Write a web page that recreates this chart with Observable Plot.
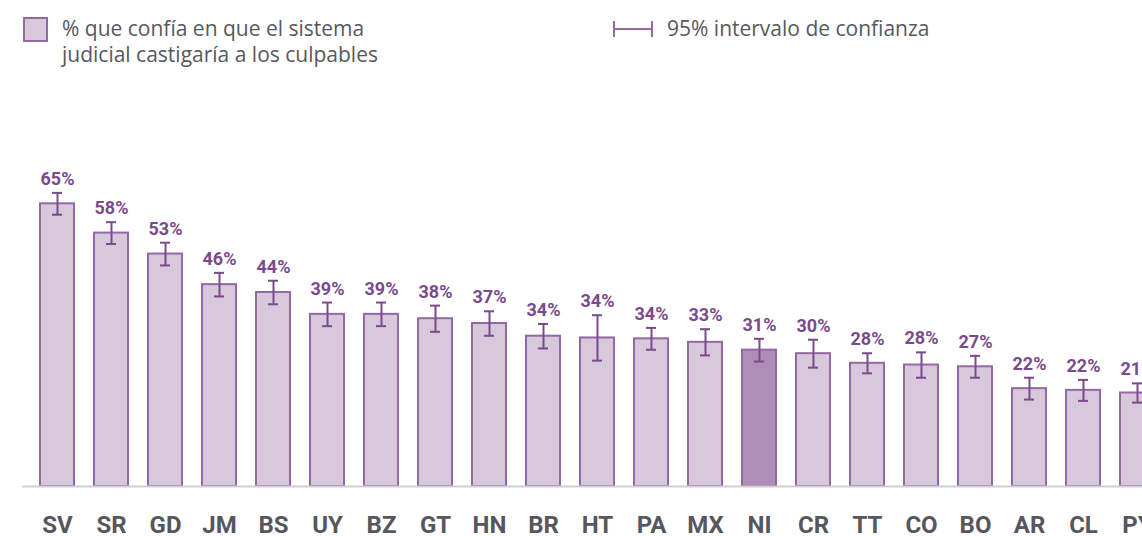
<!DOCTYPE html>
<html>
<head>
<meta charset="utf-8">
<script src="https://cdn.jsdelivr.net/npm/d3@7"></script>
<script src="https://cdn.jsdelivr.net/npm/@observablehq/plot@0.6"></script>
<style>
  html, body { margin: 0; padding: 0; background: #fff; overflow: hidden; }
  #wrap { width: 1142px; height: 536px; overflow: hidden; position: relative; }
  #legend { position: relative; height: 80px; font-family: "Open Sans", Lato, sans-serif; color: #585860; font-size: 21px; }
  .sw { position: absolute; left: 23px; top: 17px; width: 21px; height: 21px; background: #d8c8dc; border: 2px solid #9468a2; }
  .t1 { position: absolute; left: 62px; top: 15px; line-height: 26px; }
  .ci { position: absolute; left: 612px; top: 20px; }
  .t2 { position: absolute; left: 667px; top: 15px; line-height: 26px; }
  #chart svg { display: block; overflow: visible; }
</style>
</head>
<body>
<div id="wrap">
  <div id="legend">
    <div class="sw"></div>
    <div class="t1">% que confía en que el sistema<br>judicial castigaría a los culpables</div>
    <svg class="ci" width="42" height="18"><line x1="2" y1="1" x2="2" y2="17" stroke="#9468a2" stroke-width="2"/><line x1="2" y1="9" x2="40" y2="9" stroke="#9468a2" stroke-width="2"/><line x1="40" y1="1" x2="40" y2="17" stroke="#9468a2" stroke-width="2"/></svg>
    <div class="t2">95% intervalo de confianza</div>
  </div>
  <div id="chart"></div>
</div>
<script>
const countries = ["SV","SR","GD","JM","BS","UY","BZ","GT","HN","BR","HT","PA","MX","NI","CR","TT","CO","BO","AR","CL","PY"];
const values    = [64.7, 58.0, 53.2, 46.2, 44.4, 39.4, 39.4, 38.4, 37.3, 34.4, 34.0, 33.8, 33.0, 31.2, 30.4, 28.2, 27.8, 27.4, 22.4, 22.0, 21.4];
const ciHalf    = [2.5, 2.5, 2.6, 2.7, 2.7, 2.7, 2.7, 3.0, 2.8, 2.8, 5.2, 2.5, 3.0, 2.6, 3.2, 2.3, 2.9, 2.5, 2.5, 2.4, 2.2];
const highlight = "NI";

const data = countries.map((c, i) => ({
  country: c,
  value: values[i],
  lo: values[i] - ciHalf[i],
  hi: values[i] + ciHalf[i],
  label: Math.round(values[i]) + "%"
}));

const purple = "#9468a2";
const dark = "#7b4a8b";

const chart = Plot.plot({
  width: 1142,
  height: 456,
  marginLeft: 22,
  marginRight: 0,
  marginTop: 0,
  marginBottom: 50,
  style: { fontFamily: "Roboto, sans-serif", background: "transparent" },
  x: { domain: countries, range: [30, 1164], paddingInner: 0.37, paddingOuter: 0.185, label: null },
  y: { domain: [0, 65], range: [406, 122], axis: null },
  marks: [
    Plot.barY(data, {
      x: "country", y: "value",
      fill: d => d.country === highlight ? "#ae8db6" : "#d8c8dc",
      stroke: purple, strokeWidth: 2
    }),
    Plot.ruleY([0], { stroke: "#cfcfcf", strokeWidth: 2 }),
    Plot.ruleX(data, { x: "country", y1: "lo", y2: "hi", stroke: dark, strokeWidth: 2 }),
    Plot.tickY(data, { x: "country", y: "lo", stroke: dark, strokeWidth: 2, insetLeft: 12, insetRight: 12 }),
    Plot.tickY(data, { x: "country", y: "hi", stroke: dark, strokeWidth: 2, insetLeft: 12, insetRight: 12 }),
    Plot.text(data, {
      x: "country", y: "hi", text: "label",
      lineAnchor: "bottom", dy: -8,
      fill: dark, fontSize: 18, fontWeight: "bold"
    }),
    Plot.axisX({
      tickSize: 0, tickPadding: 29, fontSize: 24, fontWeight: "bold",
      color: "#55575d", label: null
    })
  ]
});
document.getElementById("chart").append(chart);
</script>
</body>
</html>
